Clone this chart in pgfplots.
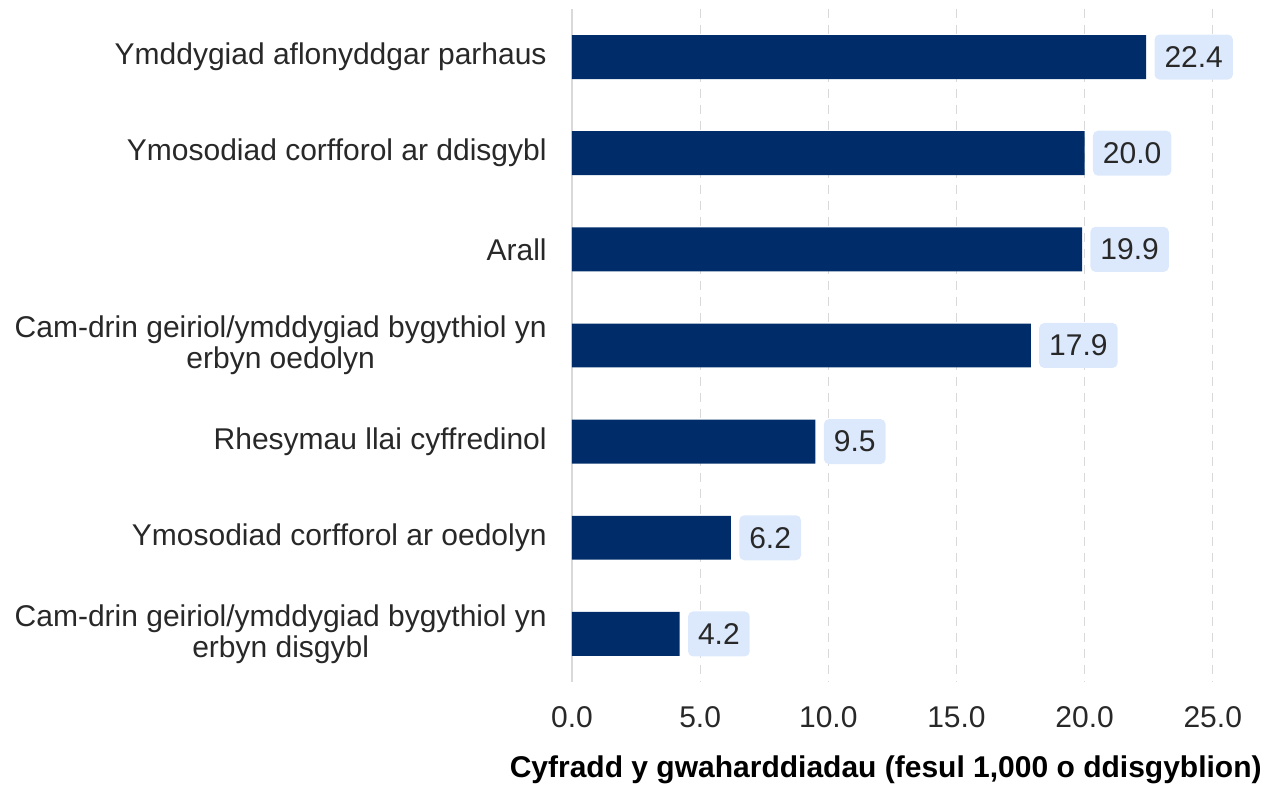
\documentclass[border=0pt]{standalone}
\usepackage{pgfplots}
\pgfplotsset{compat=1.18}
\usepackage{fontspec}
\setmainfont{Liberation Sans}
\definecolor{barblue}{RGB}{0,45,106}
\definecolor{badge}{RGB}{220,233,252}
\definecolor{txt}{RGB}{40,40,40}
\definecolor{gridc}{RGB}{217,217,217}
\begin{document}
\begin{tikzpicture}
\useasboundingbox (0,0) rectangle (637.5pt,392.5pt);
\begin{axis}[
  at={(286pt,51.5pt)}, anchor=south west,
  scale only axis, width=346pt, height=336.5pt,
  xbar, bar shift=0pt, bar width=0.457,
  xmin=0, xmax=27, ymin=-0.5, ymax=6.5, y dir=reverse,
  axis lines*=left,
  x axis line style={draw=none},
  y axis line style={draw=gridc, line width=0.6pt, -},
  xtick={0,5,10,15,20,25},
  ytick={0,1,2,3,4,5,6},
  yticklabels={Ymddygiad aflonyddgar parhaus,
    Ymosodiad corfforol ar ddisgybl,
    Arall,
    {Cam-drin geiriol/ymddygiad bygythiol yn\\erbyn oedolyn},
    Rhesymau llai cyffredinol,
    Ymosodiad corfforol ar oedolyn,
    {Cam-drin geiriol/ymddygiad bygythiol yn\\erbyn disgybl}},
  major tick length=0pt,
  xmajorgrids,
  grid style={draw=gridc, line width=0.5pt, dash pattern=on 4.5pt off 3.5pt},
  /pgf/number format/assume math mode=true,
  xticklabel={\pgfmathprintnumber[fixed,fixed zerofill,precision=1]{\tick}},
  xticklabel style={anchor=center, yshift=-17.5pt, text=txt, font=\fontsize{15}{15.5}\selectfont},
  yticklabel style={anchor=east, align=center, inner sep=0pt, xshift=-12.5pt, text=txt, font=\fontsize{15}{15.5}\selectfont},
  nodes near coords={\pgfmathprintnumber[fixed,fixed zerofill,precision=1]{\pgfplotspointmeta}},
  nodes near coords style={anchor=west, xshift=4pt, fill=badge, rounded corners=2.5pt, text=txt,
    inner xsep=5pt, minimum height=22.5pt, font=\fontsize{15}{15.5}\selectfont},
]
\addplot[fill=barblue, draw=none] coordinates {
  (22.4,0) (20.0,1) (19.9,2) (17.9,3) (9.5,4) (6.2,5) (4.2,6)
};
\end{axis}
\node[anchor=east, inner sep=0pt, font=\bfseries\fontsize{15}{15.5}\selectfont] at (631pt,7.5pt) {Cyfradd y gwaharddiadau (fesul 1,000 o ddisgyblion)};
\end{tikzpicture}
\end{document}
